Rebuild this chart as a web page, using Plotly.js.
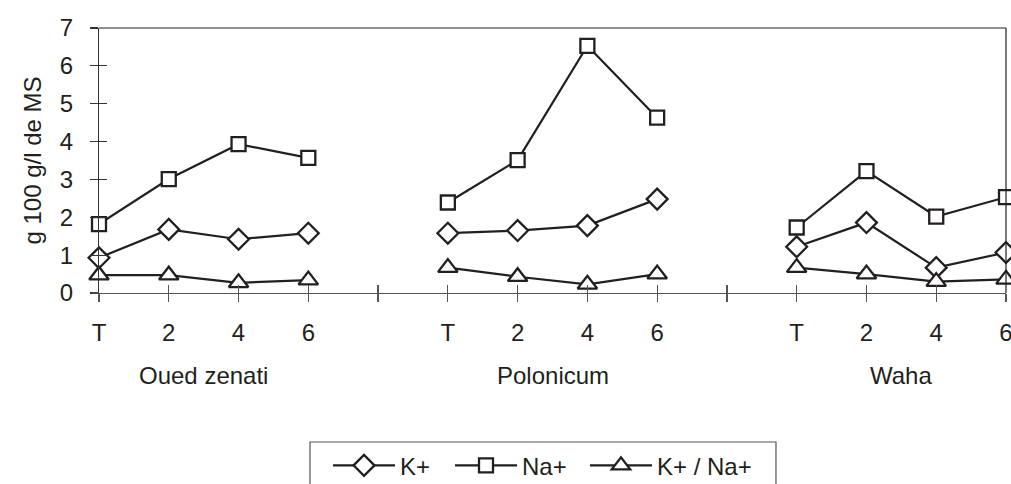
<!DOCTYPE html>
<html>
<head>
<meta charset="utf-8">
<script src="https://cdn.plot.ly/plotly-3.0.1.min.js"></script>
<style>html,body{margin:0;padding:0;background:#fff;}#chart{width:1011px;height:484px;}</style>
</head>
<body>
<div id="chart"></div>
<script>
const groups = ['Oued zenati', 'Polonicum', 'Waha'];
const stages = ['T', '2', '4', '6'];
const kPlus = [
  [0.93, 1.68, 1.42, 1.58],
  [1.58, 1.65, 1.78, 2.48],
  [1.22, 1.86, 0.67, 1.07]
];
const naPlus = [
  [1.82, 3.01, 3.93, 3.57],
  [2.39, 3.51, 6.53, 4.63],
  [1.73, 3.22, 2.02, 2.53]
];
const kNaRatio = [
  [0.47, 0.47, 0.27, 0.34],
  [0.67, 0.43, 0.23, 0.50],
  [0.67, 0.50, 0.30, 0.36]
];
const yTicks = [0, 1, 2, 3, 4, 5, 6, 7];

// slot layout: 4 stages per group, one empty slot between groups
const slot = stages.length + 1;
const nSlots = groups.length * slot - 1;
const tickvals = [], ticktext = [];
for (let i = 0; i < nSlots; i++) {
  tickvals.push(i);
  const si = i % slot;
  ticktext.push(si < stages.length ? stages[si] : '');
}
function flat(series) {
  const out = [];
  series.forEach((arr, gi) => {
    arr.forEach(v => out.push(v));
    if (gi < series.length - 1) out.push(null);
  });
  return out;
}
const xPts = [];
groups.forEach((g, gi) => {
  stages.forEach((s, si) => xPts.push(gi * slot + si));
  if (gi < groups.length - 1) xPts.push(gi * slot + stages.length);
});

const col = '#231f20';
const font = {family: 'Liberation Sans, Arial, sans-serif', size: 24, color: '#231f20'};
function trace(name, vals, symbol, size, legend) {
  return {
    type: 'scatter', mode: 'lines+markers', name: name, legend: legend,
    x: xPts, y: flat(vals), connectgaps: false, cliponaxis: false,
    line: {color: col, width: 2.2},
    marker: {symbol: symbol, size: size, color: '#ffffff', line: {color: col, width: 2.3}}
  };
}
const data = [
  trace('K+', kPlus, 'diamond', 16, 'legend'),
  trace('Na+', naPlus, 'square', 14, 'legend2'),
  trace('K+ / Na+', kNaRatio, 'triangle-up', 17, 'legend3')
];
// dummy trace for the inside-tick overlay axes
data.push({type: 'scatter', x: [0], y: [null], xaxis: 'x2', yaxis: 'y2', showlegend: false, hoverinfo: 'skip'});

const annotations = groups.map((g, gi) => ({
  text: g, x: gi * slot + (stages.length - 1) / 2, xref: 'x', y: -0.313, yref: 'paper',
  showarrow: false, xanchor: 'center', yanchor: 'middle', font: font
}));

function legendAt(x) {
  return {
    orientation: 'h', x: x, xanchor: 'left', y: -0.567, yanchor: 'top',
    borderwidth: 0, bgcolor: 'rgba(0,0,0,0)', font: font, itemwidth: 62
  };
}

const layout = {
  width: 1011, height: 484,
  margin: {l: 99, r: 5, t: 28, b: 191, autoexpand: false},
  paper_bgcolor: '#ffffff', plot_bgcolor: '#ffffff',
  font: font,
  showlegend: true,
  legend: legendAt(0.2525),
  legend2: legendAt(0.3870),
  legend3: legendAt(0.5358),
  xaxis: {
    range: [0, nSlots - 1], tickmode: 'array', tickvals: tickvals, ticktext: ticktext,
    showgrid: false, zeroline: false, showline: true, linecolor: '#555', linewidth: 1.2,
    mirror: false, ticks: 'outside', ticklen: 8, tickwidth: 1.2, tickcolor: '#555',
    ticklabelstandoff: 10, ticklabeloverflow: 'allow', tickfont: font, fixedrange: true
  },
  yaxis: {
    range: [0, 7], tickmode: 'array', tickvals: yTicks,
    showgrid: false, zeroline: false, showline: true, linecolor: '#333', linewidth: 1.2,
    ticks: 'outside', ticklen: 8, tickwidth: 1.2, tickcolor: '#333',
    ticklabelstandoff: 12, tickfont: font,
    title: {text: 'g 100 g/l de MS', font: font, standoff: 11}, fixedrange: true
  },
  xaxis2: {
    overlaying: 'x', matches: 'x', range: [0, nSlots - 1], tickmode: 'array', tickvals: tickvals,
    showticklabels: false, showgrid: false, zeroline: false, showline: false,
    ticks: 'inside', ticklen: 8, tickwidth: 1.2, tickcolor: '#555', side: 'bottom'
  },
  yaxis2: {
    overlaying: 'y', range: [0, 7], tickmode: 'array', tickvals: yTicks,
    showticklabels: false, showgrid: false, zeroline: false, showline: false,
    ticks: 'inside', ticklen: 8, tickwidth: 1.2, tickcolor: '#333', side: 'left'
  },
  shapes: [
    {type: 'line', xref: 'paper', yref: 'paper', x0: 0, x1: 1, y0: 1, y1: 1, line: {color: '#231f20', width: 1.2}},
    {type: 'line', xref: 'paper', yref: 'paper', x0: 1, x1: 1, y0: 0, y1: 1, line: {color: '#231f20', width: 1.2}},
    {type: 'line', xref: 'paper', yref: 'paper', x0: -0.008, x1: 0, y0: 0, y1: 0, line: {color: '#555', width: 1.2}},
    {type: 'rect', xref: 'paper', yref: 'paper', x0: 0.2326, x1: 0.7464, y0: -0.5623, y1: -0.751, line: {color: '#555', width: 1.2}, fillcolor: 'rgba(0,0,0,0)'}
  ],
  annotations: annotations
};
Plotly.newPlot('chart', data, layout, {staticPlot: true, displayModeBar: false});
</script>
</body>
</html>
